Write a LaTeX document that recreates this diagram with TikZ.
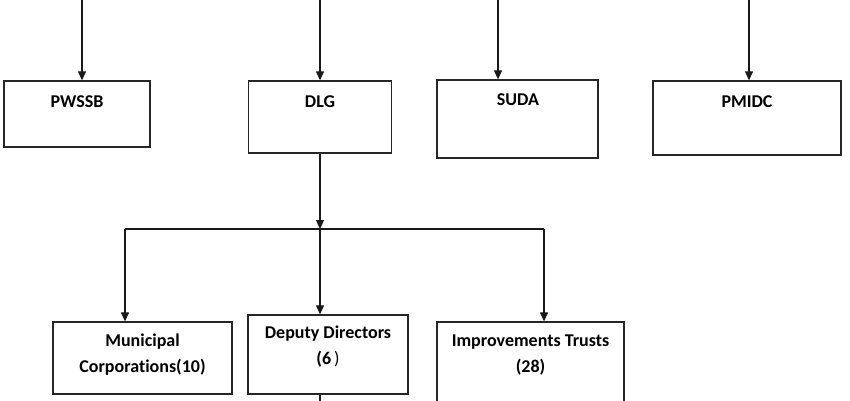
\documentclass[tikz,border=0pt]{standalone}
\usepackage{fontspec}
\setmainfont[Ligatures=NoCommon]{Carlito}
\usetikzlibrary{arrows.meta}
\begin{document}
\begin{tikzpicture}[x=1pt,y=-1pt,
  box/.style={draw=black!85,line width=1.3pt,inner sep=0pt},
  lbl/.style={font=\bfseries\fontsize{18}{25.5}\selectfont,anchor=base,align=center,inner sep=0pt},
  conn/.style={draw=black!90,line width=1.2pt},
  arr/.style={conn,-{Triangle[width=8pt,length=9pt]}}]
\clip (0,0) rectangle (850,400);
\useasboundingbox (0,0) rectangle (850,400);
% top row boxes
\node[box,minimum width=146pt,minimum height=66pt] (pwssb) at (77,114) {};
\node[lbl] (pwssbT) at (77,107) {PWSSB};
\node[box,minimum width=143pt,minimum height=72pt] (dlg) at (320,117) {};
\node[lbl] (dlgT) at (320,107) {DLG};
\node[box,minimum width=161pt,minimum height=78pt] (suda) at (517.5,119) {};
\node[lbl] (sudaT) at (518,105.5) {SUDA};
\node[box,minimum width=188pt,minimum height=74pt] (pmidc) at (747,118) {};
\node[lbl] (pmidcT) at (747,107) {PMIDC};
% incoming from above
\coordinate (inA) at (82,-5);
\coordinate (inB) at (320,-5);
\coordinate (inC) at (498,-5);
\coordinate (inD) at (749,-5);
\draw[arr] (inA) -- (inA |- pwssb.north);
\draw[arr] (inB) -- (inB |- dlg.north);
\draw[arr] (inC) -- (inC |- suda.north);
\draw[arr] (inD) -- (inD |- pmidc.north);
% bottom row boxes
\node[box,minimum width=179pt,minimum height=72pt] (mc) at (142.5,358) {};
\node[lbl] (mcT) at (142.5,372) {Municipal\\Corporations(10)};
\node[box,minimum width=160pt,minimum height=79pt] (dd) at (328,354.5) {};
\node[lbl] (ddT) at (328,364) {Deputy Directors\\(6{\mdseries\,)}};
\node[box,minimum width=187pt,minimum height=90pt] (it) at (530.5,367) {};
\node[lbl] (itT) at (530.5,372) {Improvements Trusts\\(28)};
% distribution bar
\coordinate (bar) at (320,229);
\coordinate (barL) at (125,229);
\coordinate (barR) at (544,229);
\draw[arr] (dlg.south) -- (bar);
\draw[conn] (barL) -- (barR);
\draw[arr] (barL) -- (barL |- mc.north);
\draw[arr] (bar) -- (bar |- dd.north);
\draw[arr] (barR) -- (barR |- it.north);
\coordinate (out) at (320,410);
\draw[conn] (dd.south -| out) -- (out);
\end{tikzpicture}
\end{document}
